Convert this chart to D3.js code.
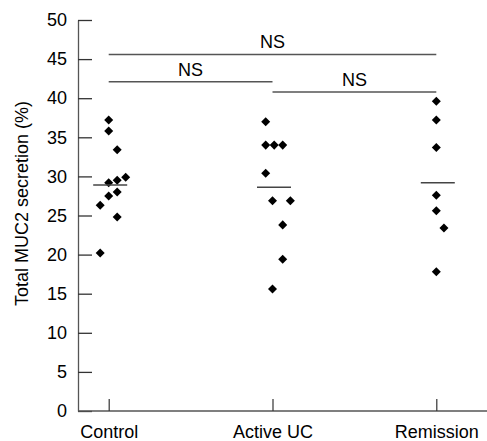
<!DOCTYPE html>
<html>
<head>
<meta charset="utf-8">
<script src="https://cdn.jsdelivr.net/npm/d3@7"></script>
<style>
  body { margin: 0; background: #fff; }
  svg text { font-family: "Liberation Sans", Arial, sans-serif; }
</style>
</head>
<body>
<div id="chart"></div>
<script>
// data
const groups = ["Control", "Active UC", "Remission"];

const controlValues = [37.2, 35.8, 33.4, 29.9, 29.5, 29.2, 28.0, 27.5, 26.3, 24.8, 20.2];
const controlJitter = [0, 0, 1, 2, 1, 0, 1, 0, -1, 1, -1];

const activeValues = [37.0, 34.0, 34.0, 34.0, 30.4, 26.9, 26.9, 23.8, 19.4, 15.6];
const activeJitter = [-0.8, -0.8, 0.2, 1.2, -0.8, 0, 2.1, 1.2, 1.2, 0];

const remissionValues = [39.6, 37.2, 33.7, 27.6, 25.6, 23.4, 17.8];
const remissionJitter = [0, 0, 0, 0, 0, 0.9, 0];

const groupMeans = [28.9, 28.6, 29.2];

// comparison bars: [from, to, level, label]
const comparisons = [
    ["Control", "Remission", 45.6, "NS"],
    ["Control", "Active UC", 42.1, "NS"],
    ["Active UC", "Remission", 40.8, "NS"]
];

const yTicks = [0, 5, 10, 15, 20, 25, 30, 35, 40, 45, 50];

const width = 487, height = 441;
const axisX = 78;
const jitterStep = 8.5;
const meanHalf = 17;

const svg = d3.select("#chart").append("svg")
    .attr("width", width)
    .attr("height", height);

const y = d3.scaleLinear().domain([0, 50]).range([411, 20]);
const x = d3.scalePoint().domain(groups).range([108.7, 436.3]);

// y axis, ticks pointing inward
const yAxis = svg.append("g")
    .attr("transform", `translate(${axisX},0)`)
    .call(d3.axisLeft(y).tickValues(yTicks).tickSize(-14).tickSizeOuter(0).tickPadding(11));
yAxis.select(".domain").attr("stroke", "#555").attr("stroke-width", 1.3);
yAxis.selectAll(".tick line").attr("stroke", "#333").attr("stroke-width", 1.3);
yAxis.selectAll(".tick text")
    .attr("font-size", "18px")
    .attr("fill", "#000")
    .attr("font-family", "Liberation Sans, Arial, sans-serif");

// x axis
svg.append("line")
    .attr("x1", axisX)
    .attr("x2", width)
    .attr("y1", y(0))
    .attr("y2", y(0))
    .attr("stroke", "#555")
    .attr("stroke-width", 1.3);

const xAxis = svg.append("g")
    .attr("transform", `translate(0,${y(0)})`)
    .call(d3.axisBottom(x).tickSize(-12).tickSizeOuter(0).tickPadding(14));
xAxis.select(".domain").remove();
xAxis.selectAll(".tick line").attr("stroke", "#333").attr("stroke-width", 1.2);
xAxis.selectAll(".tick text")
    .attr("font-size", "18px")
    .attr("fill", "#000")
    .attr("font-family", "Liberation Sans, Arial, sans-serif");

// y label
svg.append("text")
    .attr("transform", `translate(28,${(y(0) + y(50)) / 2 - 12}) rotate(-90)`)
    .attr("text-anchor", "middle")
    .attr("font-size", "18px")
    .attr("fill", "#000")
    .text("Total MUC2 secretion (%)");

// points
const series = [
    { name: "Control", values: controlValues, jitter: controlJitter },
    { name: "Active UC", values: activeValues, jitter: activeJitter },
    { name: "Remission", values: remissionValues, jitter: remissionJitter }
];

const diamond = d3.symbol().type(d3.symbolDiamond2).size(52);

series.forEach(function (s) {
    svg.append("g")
        .selectAll("path")
        .data(s.values)
        .join("path")
        .attr("d", diamond)
        .attr("transform", (d, i) => `translate(${x(s.name) + s.jitter[i] * jitterStep},${y(d)})`)
        .attr("fill", "#000");
});

// mean lines
svg.append("g")
    .selectAll("line")
    .data(groupMeans)
    .join("line")
    .attr("x1", (d, i) => x(groups[i]) + 1.5 - meanHalf)
    .attr("x2", (d, i) => x(groups[i]) + 1.5 + meanHalf)
    .attr("y1", d => y(d))
    .attr("y2", d => y(d))
    .attr("stroke", "#444")
    .attr("stroke-width", 1.5);

// significance bars
const sig = svg.append("g");
sig.selectAll("line")
    .data(comparisons)
    .join("line")
    .attr("x1", d => x(d[0]))
    .attr("x2", d => x(d[1]))
    .attr("y1", d => y(d[2]))
    .attr("y2", d => y(d[2]))
    .attr("stroke", "#555")
    .attr("stroke-width", 1.5);

sig.selectAll("text")
    .data(comparisons)
    .join("text")
    .attr("x", d => (x(d[0]) + x(d[1])) / 2)
    .attr("y", d => y(d[2]) - 6)
    .attr("text-anchor", "middle")
    .attr("font-size", "18px")
    .attr("fill", "#000")
    .text(d => d[3]);
</script>
</body>
</html>
